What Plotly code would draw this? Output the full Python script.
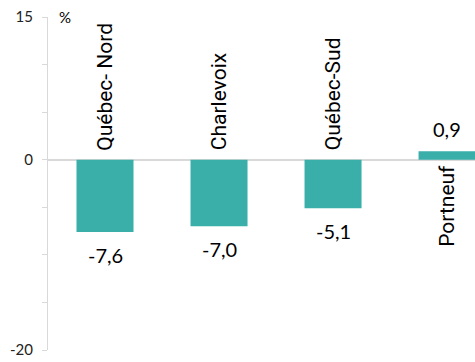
import plotly.graph_objects as go

categories = ["Québec- Nord", "Charlevoix", "Québec-Sud", "Portneuf"]
values = [-7.6, -7.0, -5.1, 0.9]
value_labels = ["-7,6", "-7,0", "-5,1", "0,9"]
tick_vals = [15, 10, 5, 0, -5, -10, -15, -20]
tick_text = ["15", "", "", "0", "", "", "", "-20"]

bar_color = "#3AAEA9"
axis_grey = "#D9D9D9"

fig = go.Figure()
fig.add_trace(go.Bar(x=list(range(len(categories))), y=values,
                     marker=dict(color=bar_color, line=dict(width=0)),
                     width=0.5, hoverinfo="skip"))

annotations = []
for i, (c, v, lab) in enumerate(zip(categories, values, value_labels)):
    # category label (rotated)
    annotations.append(dict(x=i, y=0, xref="x", yref="y", text=c, showarrow=False,
                            textangle=-90,
                            yanchor="bottom" if v < 0 else "top",
                            yshift=7 if v < 0 else -3,
                            font=dict(family="Liberation Sans Narrow, Arial Narrow, Roboto", size=21, color="#000000")))
    # value label
    annotations.append(dict(x=i, y=v, xref="x", yref="y", text=lab, showarrow=False,
                            yanchor="top" if v < 0 else "bottom",
                            yshift=-9 if v < 0 else 8,
                            font=dict(family="Lato, Open Sans", size=20, color="#000000")))
annotations.append(dict(x=0.02, y=15, xref="paper", yref="y", text="%", showarrow=False,
                        xanchor="left", yanchor="middle",
                        font=dict(family="Lato, Open Sans", size=15, color="#000000")))

fig.update_layout(
    width=475, height=362,
    margin=dict(l=48, r=0, t=17, b=12),
    plot_bgcolor="white", paper_bgcolor="white",
    showlegend=False,
    annotations=annotations,
    xaxis=dict(range=[-0.5, 3.245], showticklabels=False, showgrid=False,
               zeroline=False, showline=False, ticks=""),
    yaxis=dict(range=[-20, 15], tickvals=tick_vals, ticktext=tick_text,
               ticks="outside", ticklen=5, tickcolor=axis_grey, tickwidth=1,
               showline=True, linecolor=axis_grey, linewidth=1,
               showgrid=False, zeroline=True, zerolinecolor=axis_grey, zerolinewidth=1.5,
               tickfont=dict(family="Lato, Open Sans", size=15, color="#222222"),
               ticklabelstandoff=6),
)

fig.write_html("out.html")
